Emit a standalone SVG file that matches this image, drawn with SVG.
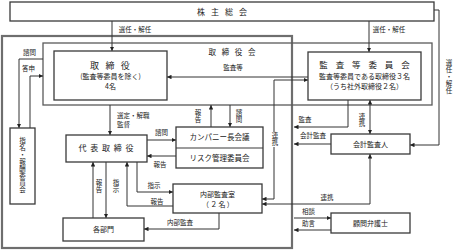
<svg xmlns="http://www.w3.org/2000/svg" width="454" height="250" viewBox="0 0 454 250">
<defs>
<style>
text{font-family:"Noto Sans CJK JP","Noto Sans",sans-serif;fill:#222;text-anchor:middle}
.box{fill:#fff;stroke:#3a3a3a;stroke-width:1.3}
.outer{fill:none;stroke:#6e6e6e;stroke-width:2.2}
.inner{fill:none;stroke:#5a5a5a;stroke-width:1.3}
.ln{fill:none;stroke:#333;stroke-width:1}
.lb{font-size:6.5px}
.t7{font-size:7px}
.v{writing-mode:vertical-rl;letter-spacing:0.5px}
</style>
<marker id="ah" viewBox="0 0 6 6" refX="6" refY="3" markerWidth="4.5" markerHeight="4.5" markerUnits="userSpaceOnUse" orient="auto-start-reverse">
<path d="M0,0 L6,3 L0,6 z" fill="#222"/>
</marker>
</defs>
<rect width="454" height="250" fill="#fff"/>

<g id="frames">
<rect class="outer" x="2" y="36" width="290" height="212"/>
<rect class="inner" x="43" y="43" width="389" height="62"/>
<text x="233" y="55" style="font-size:7.5px;letter-spacing:2px">取 締 役 会</text>
</g>

<g id="connectors">
<path class="ln" d="M112,21 V51" marker-end="url(#ah)"/>
<path class="ln" d="M369,21 V52" marker-end="url(#ah)"/>
<path class="ln" d="M434,10 H439 V145 H410" marker-end="url(#ah)"/>
<path class="ln" d="M43,59 H19 V128" marker-end="url(#ah)"/>
<path class="ln" d="M30,128 V76 H43" marker-end="url(#ah)"/>
<path class="ln" d="M308,77 H167" marker-end="url(#ah)"/>
<path class="ln" d="M274,132 V80 H308" marker-end="url(#ah)"/>
<path class="ln" d="M274,147 V199 H262" marker-end="url(#ah)"/>
<path class="ln" d="M110,105 V135" marker-end="url(#ah)"/>
<path class="ln" d="M211,127 V105" marker-end="url(#ah)"/>
<path class="ln" d="M230,105 V127" marker-end="url(#ah)"/>
<path class="ln" d="M147,140 H176" marker-end="url(#ah)"/>
<path class="ln" d="M176,156 H147" marker-end="url(#ah)"/>
<path class="ln" d="M93,218 V162" marker-end="url(#ah)"/>
<path class="ln" d="M106,162 V218" marker-end="url(#ah)"/>
<path class="ln" d="M173,206 H127 V162" marker-end="url(#ah)"/>
<path class="ln" d="M137,162 V192 H173" marker-end="url(#ah)"/>
<path class="ln" d="M219,213 V229 H144" marker-end="url(#ah)"/>
<path class="ln" d="M348,100 V127 H294" marker-end="url(#ah)"/>
<path class="ln" d="M331,144 H294" marker-end="url(#ah)"/>
<path class="ln" d="M370,100 V134" marker-start="url(#ah)" marker-end="url(#ah)"/>
<path class="ln" d="M370,154 V204 H262" marker-start="url(#ah)" marker-end="url(#ah)"/>
<path class="ln" d="M294,218 H331" marker-end="url(#ah)"/>
<path class="ln" d="M331,230 H294" marker-end="url(#ah)"/>

<text class="lb" x="135" y="31.5">選任・解任</text>
<text class="lb" x="389" y="31.5">選任・解任</text>
<text class="lb v" x="449" y="77">選任・解任</text>
<text class="lb" x="29.5" y="54.5">諮問</text>
<text class="lb" x="28.5" y="70.5">答申</text>
<text class="lb" x="233" y="70">監査等</text>
<text class="lb" x="117" y="117.5" style="text-anchor:start">選定・解職</text>
<text class="lb" x="117" y="127.2" style="text-anchor:start">監督</text>
<text class="lb v" x="198" y="116">報告</text>
<text class="lb v" x="239" y="116">諮問</text>
<text class="lb" x="161.5" y="135">諮問</text>
<text class="lb" x="160" y="166.5">報告</text>
<text class="lb v" x="275" y="139.5">連携</text>
<text class="lb v" x="362" y="120">連携</text>
<text class="lb" x="305" y="122">監査</text>
<text class="lb" x="313" y="137.5">会計監査</text>
<text class="lb v" x="99" y="186.5">報告</text>
<text class="lb v" x="116" y="186.5">指示</text>
<text class="lb" x="154" y="187.5">指示</text>
<text class="lb" x="157" y="203.5">報告</text>
<text class="lb" x="180" y="224.5">内部監査</text>
<text class="lb" x="327" y="199.5">連携</text>
<text class="lb" x="308.5" y="213.5">相談</text>
<text class="lb" x="308.5" y="225.5">助言</text>
</g>

<g id="shareholders">
<rect class="box" x="10" y="2" width="424" height="19"/>
<text x="223" y="14.5" style="font-size:8px;letter-spacing:2.1px">株 主 総 会</text>
</g>

<g id="directors">
<rect class="box" x="54" y="51" width="113" height="49"/>
<text x="111" y="68.5" style="font-size:9px;letter-spacing:2.2px">取 締 役</text>
<text class="t7" x="110.5" y="79">(監査等委員を除く)</text>
<text class="t7" x="110.5" y="88.5">4名</text>
</g>

<g id="audit-committee">
<rect class="box" x="308" y="52" width="113" height="48"/>
<text x="366" y="68" style="font-size:8.5px;letter-spacing:3px">監 査 等 委 員 会</text>
<text class="t7" x="364.5" y="78.5">監査等委員である取締役３名</text>
<text class="t7" x="364.5" y="88.5">（うち社外取締役２名）</text>
</g>

<g id="nomination-committee">
<rect class="box" x="10" y="128" width="25" height="76"/>
<text class="lb v" x="22.5" y="165">指名・報酬委員会</text>
</g>

<g id="representative">
<rect class="box" x="66" y="135" width="81" height="27"/>
<text x="106.5" y="151" style="font-size:8px;letter-spacing:1px">代 表 取 締 役</text>
</g>

<g id="company-meeting">
<rect class="box" x="176" y="127" width="87" height="41"/>
<line x1="176" y1="148" x2="263" y2="148" stroke="#3a3a3a" stroke-width="1.2"/>
<text x="219.5" y="140" style="font-size:7.5px">カンパニー長会議</text>
<text x="219.5" y="160.5" style="font-size:7.5px">リスク管理委員会</text>
</g>

<g id="accounting-auditor">
<rect class="box" x="331" y="134" width="79" height="20"/>
<text class="t7" x="370.5" y="146.5">会計監査人</text>
</g>

<g id="internal-audit">
<rect class="box" x="173" y="184" width="89" height="29"/>
<text class="t7" x="217.5" y="197">内部監査室</text>
<text class="t7" x="218.5" y="207" style="letter-spacing:1.2px">（２名）</text>
</g>

<g id="departments">
<rect class="box" x="63" y="218" width="81" height="23"/>
<text class="t7" x="103.5" y="232">各部門</text>
</g>

<g id="lawyer">
<rect class="box" x="331" y="213" width="79" height="20"/>
<text class="t7" x="370.5" y="225.5">顧問弁護士</text>
</g>
</svg>
